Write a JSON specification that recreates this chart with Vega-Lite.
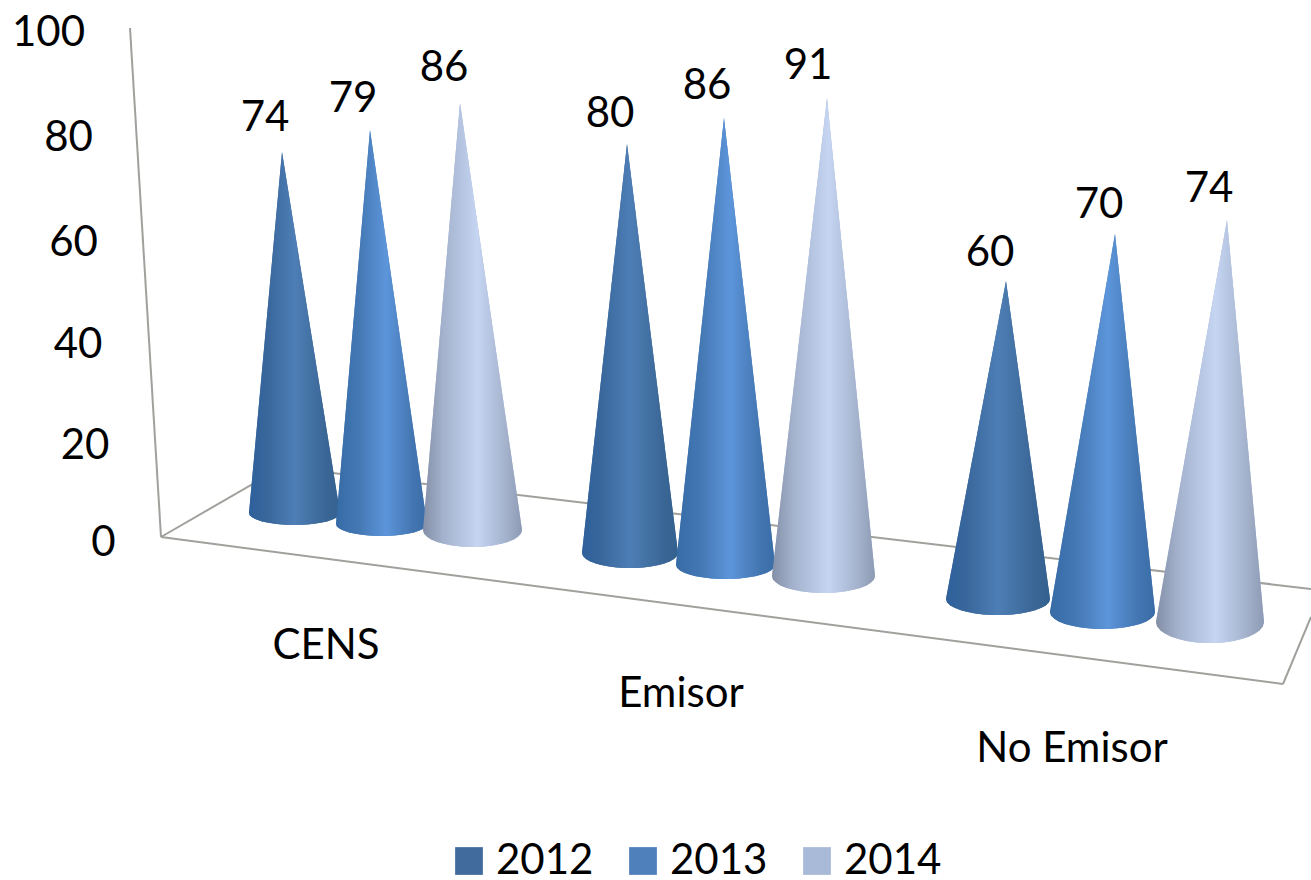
{"$schema":"https://vega.github.io/schema/vega-lite/v6.json","width":1311,"height":880,"padding":0,"autosize":"none","background":"white","config":{"view":{"stroke":null},"text":{"font":"Lato","fontSize":42,"color":"#000000"}},
"datasets":{"cones":[
{"cone":"CENS 2012","year":"2012","sx":282,"sx2":282,"sy":152},{"cone":"CENS 2012","year":"2012","sx":249,"sx2":340,"sy":513},{"cone":"CENS 2012","year":"2012","sx":249.9,"sx2":339.1,"sy":515.4},{"cone":"CENS 2012","year":"2012","sx":252.8,"sx2":336.2,"sy":517.8},{"cone":"CENS 2012","year":"2012","sx":256.5,"sx2":332.5,"sy":519.6},{"cone":"CENS 2012","year":"2012","sx":262,"sx2":327,"sy":521.4},{"cone":"CENS 2012","year":"2012","sx":267.2,"sx2":321.8,"sy":522.6},{"cone":"CENS 2012","year":"2012","sx":274.7,"sx2":314.3,"sy":523.8},{"cone":"CENS 2012","year":"2012","sx":281.8,"sx2":307.2,"sy":524.5},{"cone":"CENS 2012","year":"2012","sx":289.9,"sx2":299.1,"sy":525},
{"cone":"CENS 2013","year":"2013","sx":370,"sx2":370,"sy":130},{"cone":"CENS 2013","year":"2013","sx":336,"sx2":427,"sy":524},{"cone":"CENS 2013","year":"2013","sx":336.9,"sx2":426.1,"sy":526.4},{"cone":"CENS 2013","year":"2013","sx":339.8,"sx2":423.2,"sy":528.8},{"cone":"CENS 2013","year":"2013","sx":343.5,"sx2":419.5,"sy":530.6},{"cone":"CENS 2013","year":"2013","sx":349,"sx2":414,"sy":532.4},{"cone":"CENS 2013","year":"2013","sx":354.2,"sx2":408.8,"sy":533.6},{"cone":"CENS 2013","year":"2013","sx":361.7,"sx2":401.3,"sy":534.8},{"cone":"CENS 2013","year":"2013","sx":368.8,"sx2":394.2,"sy":535.5},{"cone":"CENS 2013","year":"2013","sx":376.9,"sx2":386.1,"sy":536},
{"cone":"CENS 2014","year":"2014","sx":460,"sx2":460,"sy":103},{"cone":"CENS 2014","year":"2014","sx":423,"sx2":522,"sy":530},{"cone":"CENS 2014","year":"2014","sx":424,"sx2":521,"sy":533.4},{"cone":"CENS 2014","year":"2014","sx":427.1,"sx2":517.9,"sy":536.8},{"cone":"CENS 2014","year":"2014","sx":431.2,"sx2":513.8,"sy":539.4},{"cone":"CENS 2014","year":"2014","sx":437.2,"sx2":507.8,"sy":541.9},{"cone":"CENS 2014","year":"2014","sx":442.8,"sx2":502.2,"sy":543.6},{"cone":"CENS 2014","year":"2014","sx":450.9,"sx2":494.1,"sy":545.3},{"cone":"CENS 2014","year":"2014","sx":458.6,"sx2":486.4,"sy":546.3},{"cone":"CENS 2014","year":"2014","sx":467.5,"sx2":477.5,"sy":547},
{"cone":"Emisor 2012","year":"2012","sx":627,"sx2":627,"sy":144},{"cone":"Emisor 2012","year":"2012","sx":582,"sx2":678,"sy":553},{"cone":"Emisor 2012","year":"2012","sx":583,"sx2":677,"sy":556},{"cone":"Emisor 2012","year":"2012","sx":586,"sx2":674,"sy":559},{"cone":"Emisor 2012","year":"2012","sx":589.9,"sx2":670.1,"sy":561.3},{"cone":"Emisor 2012","year":"2012","sx":595.7,"sx2":664.3,"sy":563.5},{"cone":"Emisor 2012","year":"2012","sx":601.2,"sx2":658.8,"sy":565},{"cone":"Emisor 2012","year":"2012","sx":609.1,"sx2":650.9,"sy":566.5},{"cone":"Emisor 2012","year":"2012","sx":616.6,"sx2":643.4,"sy":567.4},{"cone":"Emisor 2012","year":"2012","sx":625.2,"sx2":634.8,"sy":568},
{"cone":"Emisor 2013","year":"2013","sx":724,"sx2":724,"sy":118},{"cone":"Emisor 2013","year":"2013","sx":676,"sx2":775,"sy":565},{"cone":"Emisor 2013","year":"2013","sx":677,"sx2":774,"sy":567.8},{"cone":"Emisor 2013","year":"2013","sx":680.1,"sx2":770.9,"sy":570.6},{"cone":"Emisor 2013","year":"2013","sx":684.2,"sx2":766.8,"sy":572.7},{"cone":"Emisor 2013","year":"2013","sx":690.2,"sx2":760.8,"sy":574.8},{"cone":"Emisor 2013","year":"2013","sx":695.8,"sx2":755.2,"sy":576.2},{"cone":"Emisor 2013","year":"2013","sx":703.9,"sx2":747.1,"sy":577.6},{"cone":"Emisor 2013","year":"2013","sx":711.6,"sx2":739.4,"sy":578.4},{"cone":"Emisor 2013","year":"2013","sx":720.5,"sx2":730.5,"sy":579},
{"cone":"Emisor 2014","year":"2014","sx":827,"sx2":827,"sy":98},{"cone":"Emisor 2014","year":"2014","sx":772,"sx2":875,"sy":576},{"cone":"Emisor 2014","year":"2014","sx":773,"sx2":874,"sy":579.4},{"cone":"Emisor 2014","year":"2014","sx":776.3,"sx2":870.7,"sy":582.8},{"cone":"Emisor 2014","year":"2014","sx":780.5,"sx2":866.5,"sy":585.4},{"cone":"Emisor 2014","year":"2014","sx":786.7,"sx2":860.3,"sy":587.9},{"cone":"Emisor 2014","year":"2014","sx":792.6,"sx2":854.4,"sy":589.6},{"cone":"Emisor 2014","year":"2014","sx":801,"sx2":846,"sy":591.3},{"cone":"Emisor 2014","year":"2014","sx":809.1,"sx2":837.9,"sy":592.3},{"cone":"Emisor 2014","year":"2014","sx":818.3,"sx2":828.7,"sy":593},
{"cone":"No Emisor 2012","year":"2012","sx":1006,"sx2":1006,"sy":281},{"cone":"No Emisor 2012","year":"2012","sx":946,"sx2":1050,"sy":599},{"cone":"No Emisor 2012","year":"2012","sx":947,"sx2":1049,"sy":602.2},{"cone":"No Emisor 2012","year":"2012","sx":950.3,"sx2":1045.7,"sy":605.4},{"cone":"No Emisor 2012","year":"2012","sx":954.6,"sx2":1041.4,"sy":607.8},{"cone":"No Emisor 2012","year":"2012","sx":960.9,"sx2":1035.1,"sy":610.2},{"cone":"No Emisor 2012","year":"2012","sx":966.8,"sx2":1029.2,"sy":611.8},{"cone":"No Emisor 2012","year":"2012","sx":975.3,"sx2":1020.7,"sy":613.4},{"cone":"No Emisor 2012","year":"2012","sx":983.4,"sx2":1012.6,"sy":614.4},{"cone":"No Emisor 2012","year":"2012","sx":992.8,"sx2":1003.2,"sy":615},
{"cone":"No Emisor 2013","year":"2013","sx":1115,"sx2":1115,"sy":234},{"cone":"No Emisor 2013","year":"2013","sx":1050,"sx2":1155,"sy":612},{"cone":"No Emisor 2013","year":"2013","sx":1051,"sx2":1154,"sy":615.4},{"cone":"No Emisor 2013","year":"2013","sx":1054.4,"sx2":1150.6,"sy":618.8},{"cone":"No Emisor 2013","year":"2013","sx":1058.7,"sx2":1146.3,"sy":621.4},{"cone":"No Emisor 2013","year":"2013","sx":1065,"sx2":1140,"sy":623.9},{"cone":"No Emisor 2013","year":"2013","sx":1071,"sx2":1134,"sy":625.6},{"cone":"No Emisor 2013","year":"2013","sx":1079.6,"sx2":1125.4,"sy":627.3},{"cone":"No Emisor 2013","year":"2013","sx":1087.8,"sx2":1117.2,"sy":628.3},{"cone":"No Emisor 2013","year":"2013","sx":1097.2,"sx2":1107.8,"sy":629},
{"cone":"No Emisor 2014","year":"2014","sx":1227,"sx2":1227,"sy":220},{"cone":"No Emisor 2014","year":"2014","sx":1156,"sx2":1264,"sy":622},{"cone":"No Emisor 2014","year":"2014","sx":1157.1,"sx2":1262.9,"sy":626.2},{"cone":"No Emisor 2014","year":"2014","sx":1160.5,"sx2":1259.5,"sy":630.4},{"cone":"No Emisor 2014","year":"2014","sx":1164.9,"sx2":1255.1,"sy":633.6},{"cone":"No Emisor 2014","year":"2014","sx":1171.4,"sx2":1248.6,"sy":636.7},{"cone":"No Emisor 2014","year":"2014","sx":1177.6,"sx2":1242.4,"sy":638.8},{"cone":"No Emisor 2014","year":"2014","sx":1186.5,"sx2":1233.5,"sy":640.9},{"cone":"No Emisor 2014","year":"2014","sx":1194.9,"sx2":1225.1,"sy":642.2},{"cone":"No Emisor 2014","year":"2014","sx":1204.6,"sx2":1215.4,"sy":643}
],
"frame":[
{"edge":"wall","sx":130,"sy":28},{"edge":"wall","sx":161,"sy":537},
{"edge":"left","sx":161,"sy":537},{"edge":"left","sx":282,"sy":467},
{"edge":"back","sx":282,"sy":467},{"edge":"back","sx":1311,"sy":589},
{"edge":"front","sx":161,"sy":537},{"edge":"front","sx":1283,"sy":684},
{"edge":"right","sx":1283,"sy":684},{"edge":"right","sx":1311,"sy":617}
],
"values":[
{"category":"CENS","year":"2012","value":74,"sx":265,"sy":115},{"category":"CENS","year":"2013","value":79,"sx":353,"sy":96},{"category":"CENS","year":"2014","value":86,"sx":444,"sy":65},
{"category":"Emisor","year":"2012","value":80,"sx":610,"sy":111},{"category":"Emisor","year":"2013","value":86,"sx":707,"sy":83},{"category":"Emisor","year":"2014","value":91,"sx":808,"sy":63},
{"category":"No Emisor","year":"2012","value":60,"sx":990,"sy":250},{"category":"No Emisor","year":"2013","value":70,"sx":1099,"sy":202},{"category":"No Emisor","year":"2014","value":74,"sx":1209,"sy":186}
],
"ticks":[{"tick":100,"sx":48.5,"sy":30},{"tick":80,"sx":68.5,"sy":135},{"tick":60,"sx":73.5,"sy":240},{"tick":40,"sx":78,"sy":342},{"tick":20,"sx":85,"sy":443},{"tick":0,"sx":103.5,"sy":540}],
"cats":[{"category":"CENS","sx":326,"sy":643},{"category":"Emisor","sx":681,"sy":691},{"category":"No Emisor","sx":1072,"sy":746}]
},
"encoding":{"x":{"field":"sx","type":"quantitative","scale":{"domain":[0,1311]},"axis":null},"y":{"field":"sy","type":"quantitative","scale":{"domain":[880,0]},"axis":null}},
"layer":[
{"data":{"name":"frame"},"mark":{"type":"line","color":"#a0a09c","strokeWidth":2},"encoding":{"detail":{"field":"edge"}}},
{"data":{"name":"cones"},"mark":{"type":"area","orient":"horizontal"},"encoding":{"x2":{"field":"sx2"},"detail":{"field":"cone"},"color":{"field":"year","type":"nominal","scale":{"domain":["2012","2013","2014"],"range":["#416b9c","#4f80bb","#a9b9d8"]},"legend":{"title":null,"orient":"none","legendX":448,"legendY":840,"direction":"horizontal","symbolType":"square","symbolSize":770,"symbolStrokeWidth":0,"labelFont":"Lato","labelFontSize":42,"labelColor":"#000000","labelOffset":6,"columnPadding":28}}}},
{"data":{"name":"cones"},"transform":[{"filter":"datum.year==='2012'"}],"mark":{"type":"area","orient":"horizontal","color":{"gradient":"linear","x1":0,"y1":0,"x2":1,"y2":0,"stops":[{"offset":0,"color":"#2f609b"},{"offset":0.2,"color":"#39679c"},{"offset":0.5,"color":"#4d7eb5"},{"offset":0.85,"color":"#3a6695"},{"offset":1,"color":"#33618f"}]}},"encoding":{"x2":{"field":"sx2"},"detail":{"field":"cone"}}},
{"data":{"name":"cones"},"transform":[{"filter":"datum.year==='2013'"}],"mark":{"type":"area","orient":"horizontal","color":{"gradient":"linear","x1":0,"y1":0,"x2":1,"y2":0,"stops":[{"offset":0,"color":"#376ba6"},{"offset":0.25,"color":"#4478b4"},{"offset":0.55,"color":"#5c95da"},{"offset":0.85,"color":"#4375b0"},{"offset":1,"color":"#3a6da8"}]}},"encoding":{"x2":{"field":"sx2"},"detail":{"field":"cone"}}},
{"data":{"name":"cones"},"transform":[{"filter":"datum.year==='2014'"}],"mark":{"type":"area","orient":"horizontal","color":{"gradient":"linear","x1":0,"y1":0,"x2":1,"y2":0,"stops":[{"offset":0,"color":"#838fa6"},{"offset":0.2,"color":"#a3b1cc"},{"offset":0.55,"color":"#c5d5f2"},{"offset":0.85,"color":"#a2b0ca"},{"offset":1,"color":"#8d9ab4"}]}},"encoding":{"x2":{"field":"sx2"},"detail":{"field":"cone"}}},
{"data":{"name":"values"},"mark":{"type":"text","baseline":"middle","align":"center","dy":3},"encoding":{"text":{"field":"value","type":"quantitative"}}},
{"data":{"name":"ticks"},"mark":{"type":"text","baseline":"middle","align":"center","dy":3},"encoding":{"text":{"field":"tick","type":"quantitative"}}},
{"data":{"name":"cats"},"mark":{"type":"text","baseline":"middle","align":"center","dy":3},"encoding":{"text":{"field":"category","type":"nominal"}}}
]}
